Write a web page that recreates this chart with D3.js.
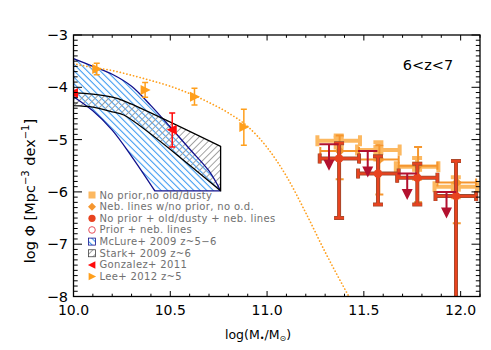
<!DOCTYPE html>
<html><head><meta charset="utf-8">
<script src="https://cdn.jsdelivr.net/npm/d3@7"></script>
<style>body{margin:0;background:#fff} svg{display:block} text{font-family:"DejaVu Sans",sans-serif}</style>
</head><body><svg id="c" width="491" height="350"></svg>
<script>
// ---------- data ----------
const xTicks=[10.0,10.5,11.0,11.5,12.0];
const yTicks=[-3,-4,-5,-6,-7,-8];
// Lee+ 2012 z~5
const leeX=[10.12,10.37,10.625,10.88];
const leeY=[-3.65,-4.05,-4.18,-4.76];
const leeHi=[-3.54,-3.91,-4.02,-4.42];
const leeLo=[-3.76,-4.19,-4.34,-5.11];
// dotted Lee fit curve
const fitX=[10.0,10.1,10.2,10.3,10.4,10.5,10.6,10.7,10.8,10.9,11.0,11.1,11.2,11.3,11.43];
const fitY=[-3.55,-3.62,-3.68,-3.77,-3.87,-3.98,-4.12,-4.29,-4.49,-4.75,-5.15,-5.7,-6.4,-7.15,-8.05];
// Gonzalez+ 2011
const gonX=[10.0,10.51];
const gonY=[-4.11,-4.81];
const gonHi=[null,-4.49];
const gonLo=[null,-5.14];
// McLure+ 2009 region
const mclUpper=[[10.0,-3.45],[10.1,-3.6],[10.2,-3.75],[10.3,-3.98],[10.4,-4.35],[10.5,-4.76],[10.6,-5.18],[10.7,-5.6],[10.76,-5.98]];
const mclLower=[[10.0,-4.18],[10.1,-4.45],[10.2,-4.82],[10.3,-5.32],[10.42,-5.98]];
// Stark+ 2009 region
const starkUpper=[[10.0,-4.1],[10.1,-4.13],[10.2,-4.19],[10.26,-4.26],[10.76,-5.13]];
const starkLower=[[10.0,-4.35],[10.1,-4.38],[10.2,-4.47],[10.26,-4.53],[10.76,-5.98]];
// No prior, no old/dusty (squares)
const aX=[11.37,11.575,11.775,11.975];
const aY=[-5.02,-5.2,-5.52,-5.9];
const aXlo=[11.26,11.465,11.665,11.865];
const aXhi=[11.48,11.685,11.885,12.085];
const aYhi=[-4.92,-5.05,-5.35,-5.72];
const aYlo=[-5.15,-5.38,-5.75,-6.1];
// Neb. lines w/no prior, no o.d. (diamonds)
const bX=[11.375,11.58,11.78,11.98];
const bY=[-5.22,-5.38,-5.5,-5.82];
const bXlo=[11.275,11.48,11.68,11.88];
const bXhi=[11.475,11.68,11.88,12.08];
const bYhi=[-4.92,-5.11,-5.14,-5.43];
const bYlo=[-5.76,-6.05,-6.2,-6.6];
// No prior + old/dusty + neb. lines (circles)
const cX=[11.372,11.573,11.776,11.976];
const cY=[-5.36,-5.65,-5.73,-6.08];
const cXlo=[11.272,11.47,11.672,11.87];
const cXhi=[11.475,11.68,11.88,12.08];
const cYhi=[-5.07,-5.32,-5.46,-5.41];
const cYlo=[-6.5,-6.24,-6.24,-9.0];
// Prior + neb. lines (upper limits)
const dX=[11.32,11.52,11.724,11.927];
const dY=[-5.09,-5.22,-5.65,-6.0];
const dXlo=[11.27,11.47,11.674,11.877];
const dXhi=[11.37,11.57,11.774,11.977];
const legendLabels=["No prior,no old/dusty","Neb. lines w/no prior, no o.d.","No prior + old/dusty + neb. lines","Prior + neb. lines","McLure+ 2009 z~5\u22126","Stark+ 2009 z~6","Gonzalez+ 2011","Lee+ 2012 z~5"];

// ---------- setup ----------
const svg=d3.select('#c');
const L=73.5,R=480,T=35,B=296.5;
const x=d3.scaleLinear().domain([10,12.1]).range([L,R]);
const y=d3.scaleLinear().domain([-8,-3]).range([B,T]);
const defs=svg.append('defs');
defs.append('clipPath').attr('id','clip').append('rect').attr('x',L).attr('y',T).attr('width',R-L).attr('height',B-T);
function hatch(id,color,angle,sp,w){
  const p=defs.append('pattern').attr('id',id).attr('patternUnits','userSpaceOnUse')
    .attr('width',sp).attr('height',sp).attr('patternTransform',`rotate(${angle})`);
  p.append('line').attr('x1',sp/2).attr('y1',-1).attr('x2',sp/2).attr('y2',sp+1).attr('stroke',color).attr('stroke-width',w);
}
hatch('hBlue','#3a98f0',-45,4.6,1.1);
hatch('hGray','#a0a0a0',45,4.8,1.0);

const COL={a:'#fcb860',b:'#f5962e',c:'#e8431f',cEdge:'#9a4a30',d:'#b3112f',lee:'#ff9f1c',gon:'#ff0a0a',navy:'#10108c'};

const g=svg.append('g').attr('clip-path','url(#clip)');
const cr=d3.line().x(d=>x(d[0])).y(d=>y(d[1])).curve(d3.curveCatmullRom);
function regionPath(upper,lower,extra){
  let d=cr(upper);
  extra.forEach(p=>{d+=`L${x(p[0])},${y(p[1])}`;});
  const lr=cr(lower.slice().reverse());
  d+='L'+lr.slice(1)+'Z';
  return d;
}
const mclD=regionPath(mclUpper,mclLower,[[10.76,-5.98],[10.42,-5.98]]);
const starkD=regionPath(starkUpper,starkLower,[[10.76,-5.98]]);
g.append('path').attr('d',mclD).attr('fill','url(#hBlue)');
g.append('path').attr('d',starkD).attr('fill','url(#hGray)');
g.append('path').attr('d',mclD).attr('fill','none').attr('stroke',COL.navy).attr('stroke-width',1.3);
g.append('path').attr('d',starkD).attr('fill','none').attr('stroke','#000').attr('stroke-width',1.3);

// dotted fit
const fitLine=d3.line().x(d=>x(d[0])).y(d=>y(d[1])).curve(d3.curveMonotoneX);
g.append('path').attr('d',fitLine(fitX.map((v,i)=>[v,fitY[i]]))).attr('fill','none')
  .attr('stroke',COL.lee).attr('stroke-width',1.7).attr('stroke-dasharray','0.1 3.3').attr('stroke-linecap','round');

function seg(gg,x1,y1,x2,y2,col,w){gg.append('line').attr('x1',x1).attr('y1',y1).attr('x2',x2).attr('y2',y2).attr('stroke',col).attr('stroke-width',w);}
function vErr(gg,xv,yh,yl,cap,col,w){const px=x(xv);seg(gg,px,y(yh),px,y(yl),col,w);seg(gg,px-cap/2,y(yh),px+cap/2,y(yh),col,w);seg(gg,px-cap/2,y(yl),px+cap/2,y(yl),col,w);}
function hErr(gg,xl,xh,yv,cap,col,w){const py=y(yv);seg(gg,x(xl),py,x(xh),py,col,w);seg(gg,x(xl),py-cap/2,x(xl),py+cap/2,col,w);seg(gg,x(xh),py-cap/2,x(xh),py+cap/2,col,w);}
function tri(gg,cx,cy,s,dir,col){
  let pts;
  if(dir==='right')pts=[[cx+s*0.55,cy],[cx-s*0.45,cy-s*0.5],[cx-s*0.45,cy+s*0.5]];
  else if(dir==='left')pts=[[cx-s*0.55,cy],[cx+s*0.45,cy-s*0.5],[cx+s*0.45,cy+s*0.5]];
  else pts=[[cx,cy+s*0.5],[cx-s*0.5,cy-s*0.5],[cx+s*0.5,cy-s*0.5]];
  gg.append('polygon').attr('points',pts.map(p=>p.join(',')).join(' ')).attr('fill',col);
}

// Lee
leeX.forEach((v,i)=>{vErr(g,v,leeHi[i],leeLo[i],6,COL.lee,1.5);tri(g,x(v),y(leeY[i]),10,'right',COL.lee);});
// Gonzalez
gonX.forEach((v,i)=>{if(gonHi[i]!==null)vErr(g,v,gonHi[i],gonLo[i],6,COL.gon,1.5);tri(g,x(v),y(gonY[i]),10,'left',COL.gon);});

// A: light orange squares
aX.forEach((v,i)=>{
  hErr(g,aXlo[i],aXhi[i],aY[i],11,COL.a,4);
  vErr(g,v,aYhi[i],aYlo[i],10,COL.a,4);
  g.append('rect').attr('x',x(v)-5).attr('y',y(aY[i])-5).attr('width',10).attr('height',10).attr('fill',COL.a);
});
// B: orange diamonds
bX.forEach((v,i)=>{
  hErr(g,bXlo[i],bXhi[i],bY[i],8,COL.b,2);
  vErr(g,v,bYhi[i],bYlo[i],8,COL.b,2);
  const px=x(v),py=y(bY[i]);
  g.append('polygon').attr('points',`${px},${py-5} ${px+5},${py} ${px},${py+5} ${px-5},${py}`).attr('fill',COL.b);
});
// C: red circles with dark edges
cX.forEach((v,i)=>{
  hErr(g,cXlo[i],cXhi[i],cY[i],10,COL.cEdge,4);
  vErr(g,v,cYhi[i],cYlo[i],10,COL.cEdge,4);
});
cX.forEach((v,i)=>{
  hErr(g,cXlo[i],cXhi[i],cY[i],9.4,COL.c,2.4);
  vErr(g,v,cYhi[i],cYlo[i],9.4,COL.c,2.4);
  g.append('circle').attr('cx',x(v)).attr('cy',y(cY[i])).attr('r',4.3).attr('fill',COL.c);
});
// D: upper limits
dX.forEach((v,i)=>{
  const py=y(dY[i]);
  seg(g,x(dXlo[i]),py,x(dXhi[i]),py,COL.d,2);
  seg(g,x(v),py,x(v),py+18,COL.d,2);
  tri(g,x(v),py+21,11,'down',COL.d);
});

// ---------- axes ----------
const ax=svg.append('g');
const xMinor=d3.range(100,122).map(k=>k/10);
const yMinor=d3.range(-80,-29).map(k=>k/10);
xMinor.forEach(v=>{
  const px=x(v);const major=xTicks.some(t=>Math.abs(t-v)<1e-6);const len=major?5.5:2.8;
  if(px>R+0.1)return;
  seg(ax,px,B,px,B-len,'#000',1);seg(ax,px,T,px,T+len,'#000',1);
});
yMinor.forEach(v=>{
  const py=y(v);const major=yTicks.some(t=>Math.abs(t-v)<1e-6);const len=major?8.5:4.2;
  seg(ax,L,py,L+len,py,'#000',1);seg(ax,R,py,R-len,py,'#000',1);
});
ax.append('rect').attr('x',L).attr('y',T).attr('width',R-L).attr('height',B-T).attr('fill','none').attr('stroke','#000').attr('stroke-width',1.3);
xTicks.forEach(v=>{ax.append('text').attr('x',x(v)).attr('y',315).attr('text-anchor','middle').attr('font-size',14).text(v.toFixed(1));});
yTicks.forEach(v=>{ax.append('text').attr('x',68).attr('y',y(v)+5).attr('text-anchor','end').attr('font-size',14.5).text('\u2212'+Math.abs(v));});

// axis titles
const xt=svg.append('text').attr('x',258).attr('y',339).attr('text-anchor','middle').attr('font-size',12.5);
xt.append('tspan').text('log(M');
xt.append('tspan').attr('font-size',8).attr('dy',2).text('\u2022');
xt.append('tspan').attr('dy',-2).text('/M');
xt.append('tspan').attr('font-size',8).attr('dy',2).text('\u2299');
xt.append('tspan').attr('dy',-2).text(')');
const yt=svg.append('text').attr('transform','translate(35,191) rotate(-90)').attr('text-anchor','middle').attr('font-size',14.5);
yt.append('tspan').text('log \u03A6 [Mpc');
yt.append('tspan').attr('font-size',10).attr('dy',-6).text('\u22123');
yt.append('tspan').attr('dy',6).text(' dex');
yt.append('tspan').attr('font-size',10).attr('dy',-6).text('\u22121');
yt.append('tspan').attr('dy',6).text(']');
svg.append('text').attr('x',428).attr('y',70).attr('text-anchor','middle').attr('font-size',14.5).text('6<z<7');

// ---------- legend ----------
const lg=svg.append('g');
const ly0=195,lstep=11.65,lsx=92,ltx=99.5;
legendLabels.forEach((t,i)=>{
  const cy=ly0+i*lstep;
  lg.append('text').attr('x',ltx).attr('y',cy+3.5).attr('font-size',10).attr('letter-spacing',0.35).attr('fill','#707070').text(t);
  if(i===0)lg.append('rect').attr('x',lsx-3.5).attr('y',cy-3.5).attr('width',7).attr('height',7).attr('fill',COL.a);
  if(i===1)lg.append('polygon').attr('points',`${lsx},${cy-4} ${lsx+4},${cy} ${lsx},${cy+4} ${lsx-4},${cy}`).attr('fill',COL.b);
  if(i===2)lg.append('circle').attr('cx',lsx).attr('cy',cy).attr('r',3.6).attr('fill',COL.c);
  if(i===3)lg.append('circle').attr('cx',lsx).attr('cy',cy).attr('r',3.3).attr('fill','none').attr('stroke','#e8505a').attr('stroke-width',1);
  if(i===4){lg.append('rect').attr('x',lsx-3.5).attr('y',cy-3.5).attr('width',7).attr('height',7).attr('fill','url(#hBlue)').attr('stroke',COL.navy).attr('stroke-width',0.8);}
  if(i===5){lg.append('rect').attr('x',lsx-3.5).attr('y',cy-3.5).attr('width',7).attr('height',7).attr('fill','url(#hGray)').attr('stroke','#444').attr('stroke-width',0.8);}
  if(i===6)tri(lg,lsx,cy,7.5,'left',COL.gon);
  if(i===7)tri(lg,lsx,cy,7.5,'right',COL.lee);
});
</script></body></html>
